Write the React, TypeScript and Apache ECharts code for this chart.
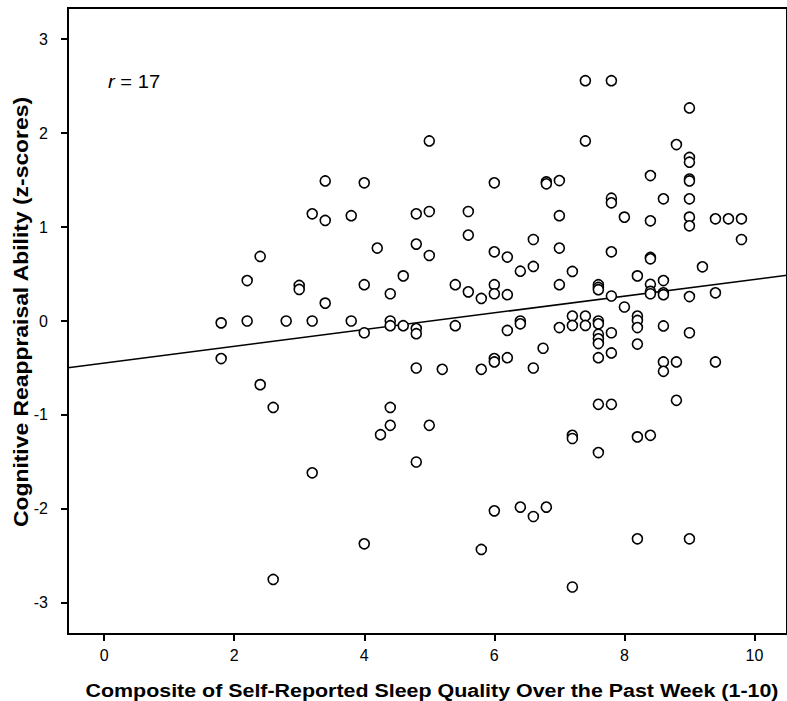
import React, { useEffect, useRef } from "react";
import * as echarts from "echarts";

// Composite sleep quality (x) and cognitive reappraisal z-scores (y)
const sleep: number[] = [
  1.8, 1.8,
  2.2, 2.2,
  2.4, 2.4,
  2.6, 2.6,
  2.8,
  3.0, 3.0,
  3.2, 3.2, 3.2,
  3.4, 3.4, 3.4,
  3.8, 3.8,
  4.0, 4.0, 4.0, 4.0,
  4.2,
  4.25,
  4.4, 4.4, 4.4, 4.4, 4.4,
  4.6, 4.6,
  4.8, 4.8, 4.8, 4.8, 4.8, 4.8,
  5.0, 5.0, 5.0, 5.0,
  5.2,
  5.4, 5.4,
  5.6, 5.6, 5.6,
  5.8, 5.8, 5.8,
  6.0, 6.0, 6.0, 6.0, 6.0, 6.0, 6.0,
  6.2, 6.2, 6.2, 6.2,
  6.4, 6.4, 6.4, 6.4,
  6.6, 6.6, 6.6, 6.6,
  6.75,
  6.8, 6.8, 6.8,
  7.0, 7.0, 7.0, 7.0, 7.0,
  7.2, 7.2, 7.2, 7.2, 7.2, 7.2,
  7.4, 7.4, 7.4, 7.4,
  7.6, 7.6, 7.6, 7.6, 7.6, 7.6, 7.6, 7.6, 7.6, 7.6, 7.6,
  7.8, 7.8, 7.8, 7.8, 7.8, 7.8, 7.8, 7.8,
  8.0, 8.0,
  8.2, 8.2, 8.2, 8.2, 8.2, 8.2, 8.2,
  8.4, 8.4, 8.4, 8.4, 8.4, 8.4, 8.4, 8.4,
  8.6, 8.6, 8.6, 8.6, 8.6, 8.6, 8.6,
  8.8, 8.8, 8.8,
  9.0, 9.0, 9.0, 9.0, 9.0, 9.0, 9.0, 9.0, 9.0, 9.0, 9.0,
  9.2,
  9.4, 9.4, 9.4,
  9.6,
  9.8, 9.8,
];

const reappraisal: number[] = [
  -0.02, -0.4,
  0.43, 0.0,
  0.687, -0.677,
  -0.92, -2.75,
  0.0,
  0.378, 0.336,
  1.14, 0.0, -1.615,
  1.49, 1.07, 0.19,
  1.12, 0.0,
  1.47, 0.386, -0.125, -2.37,
  0.776,
  -1.21,
  0.29, 0.0, -0.05, -0.92, -1.11,
  0.48, -0.05,
  1.14, 0.818, -0.08, -0.135, -0.5, -1.5,
  1.916, 1.165, 0.697, -1.11,
  -0.514,
  0.386, -0.05,
  1.165, 0.914, 0.31,
  0.24, -0.514, -2.43,
  1.47, 0.736, 0.386, 0.29, -0.4, -0.436, -2.02,
  0.68, 0.28, -0.1, -0.39,
  0.53, 0.0, -0.03, -1.98,
  0.867, 0.58, -0.5, -2.08,
  -0.29,
  1.48, 1.46, -1.98,
  1.494, 1.12, 0.776, 0.386, -0.07,
  0.527, 0.053, -0.047, -1.216, -1.25, -2.83,
  2.557, 1.916, 0.053, -0.047,
  0.386, 0.357, 0.333, 0.0, -0.03, -0.14, -0.19, -0.24, -0.39, -0.886, -1.4,
  2.557, 1.307, 1.257, 0.736, 0.266, -0.125, -0.34, -0.886,
  1.105, 0.149,
  0.48, 0.053, 0.006, -0.07, -0.245, -1.233, -2.317,
  1.547, 1.066, 0.676, 0.662, 0.39, 0.315, 0.29, -1.216,
  1.3, 0.43, 0.3, 0.28, -0.053, -0.436, -0.535,
  1.877, -0.436, -0.844,
  2.267, 1.74, 1.69, 1.51, 1.49, 1.3, 1.105, 1.013, 0.26, -0.125, -2.317,
  0.577,
  1.087, 0.3, -0.436,
  1.087,
  1.087, 0.867,
];

const xTicks: number[] = [0, 2, 4, 6, 8, 10];
const yTicks: number[] = [-3, -2, -1, 0, 1, 2, 3];

// fitted regression line y = intercept + slope * x
const intercept = -0.447;
const slope = 0.0889;

const xMin = -0.555;
const xMax = 10.5;
const yMin = -3.33;
const yMax = 3.33;

const rText = "17";
const xTitle = "Composite of Self-Reported Sleep Quality Over the Past Week (1-10)";
const yTitle = "Cognitive Reappraisal Ability (z-scores)";

export default function App() {
  const ref = useRef<HTMLDivElement>(null);

  useEffect(() => {
    if (!ref.current) return;
    const chart = echarts.init(ref.current, null, { renderer: "svg" });
    const font = "'Liberation Sans', Arial, sans-serif";
    const points = sleep.map((x, i) => [x, reappraisal[i]]);
    const fit = [
      [xMin, intercept + slope * xMin],
      [xMax, intercept + slope * xMax],
    ];
    chart.setOption({
      animation: false,
      backgroundColor: "#ffffff",
      textStyle: { fontFamily: font },
      grid: {
        left: 68,
        top: 8,
        right: -5,
        bottom: 67,
        show: true,
        borderColor: "#000",
        borderWidth: 2,
        backgroundColor: "transparent",
      },
      xAxis: {
        type: "value",
        min: xMin,
        max: xMax,
        splitLine: { show: false },
        axisLine: { show: true, onZero: false, lineStyle: { color: "#000", width: 2 } },
        axisTick: {
          show: true,
          customValues: xTicks,
          length: 7,
          lineStyle: { color: "#000", width: 2 },
        },
        axisLabel: {
          customValues: xTicks,
          color: "#000",
          fontSize: 16,
          fontFamily: font,
          margin: 13,
        },
      },
      yAxis: {
        type: "value",
        min: yMin,
        max: yMax,
        splitLine: { show: false },
        axisLine: { show: true, onZero: false, lineStyle: { color: "#000", width: 2 } },
        axisTick: {
          show: true,
          customValues: yTicks,
          length: 7,
          lineStyle: { color: "#000", width: 2 },
        },
        axisLabel: {
          customValues: yTicks,
          color: "#000",
          fontSize: 16,
          fontFamily: font,
          margin: 20,
        },
      },
      graphic: [
        {
          type: "text",
          x: 108,
          y: 82,
          scaleX: 1.12,
          style: {
            text: "{i|r} = " + rText,
            rich: {
              i: { fontStyle: "italic", fontSize: 18, fontFamily: font, fill: "#000" },
            },
            fontSize: 18,
            fontFamily: font,
            fill: "#000",
            align: "left",
            verticalAlign: "middle",
            textAlign: "left",
            textVerticalAlign: "middle",
          },
        },
        {
          type: "text",
          x: 432,
          y: 690.5,
          scaleX: 1.19,
          style: {
            text: xTitle,
            fontSize: 18,
            fontWeight: "bold",
            fontFamily: font,
            fill: "#000",
            align: "center",
            verticalAlign: "middle",
            textAlign: "center",
            textVerticalAlign: "middle",
          },
        },
        {
          type: "text",
          x: 21,
          y: 312,
          rotation: Math.PI / 2,
          scaleX: 1.09,
          style: {
            text: yTitle,
            fontSize: 21,
            fontWeight: "bold",
            fontFamily: font,
            fill: "#000",
            align: "center",
            verticalAlign: "middle",
            textAlign: "center",
            textVerticalAlign: "middle",
          },
        },
      ],
      series: [
        {
          type: "line",
          data: fit,
          showSymbol: false,
          symbol: "none",
          lineStyle: { color: "#000", width: 1.5 },
          clip: true,
          silent: true,
          z: 1,
        },
        {
          type: "scatter",
          data: points,
          symbol: "circle",
          symbolSize: 10,
          itemStyle: { color: "#fff", borderColor: "#000", borderWidth: 1.6, opacity: 1 },
          clip: true,
          z: 2,
        },
      ],
    });
    return () => chart.dispose();
  }, []);

  return (
    <div
      ref={ref}
      style={{ position: "absolute", left: 0, top: 0, width: 787, height: 701, background: "#fff" }}
    />
  );
}
